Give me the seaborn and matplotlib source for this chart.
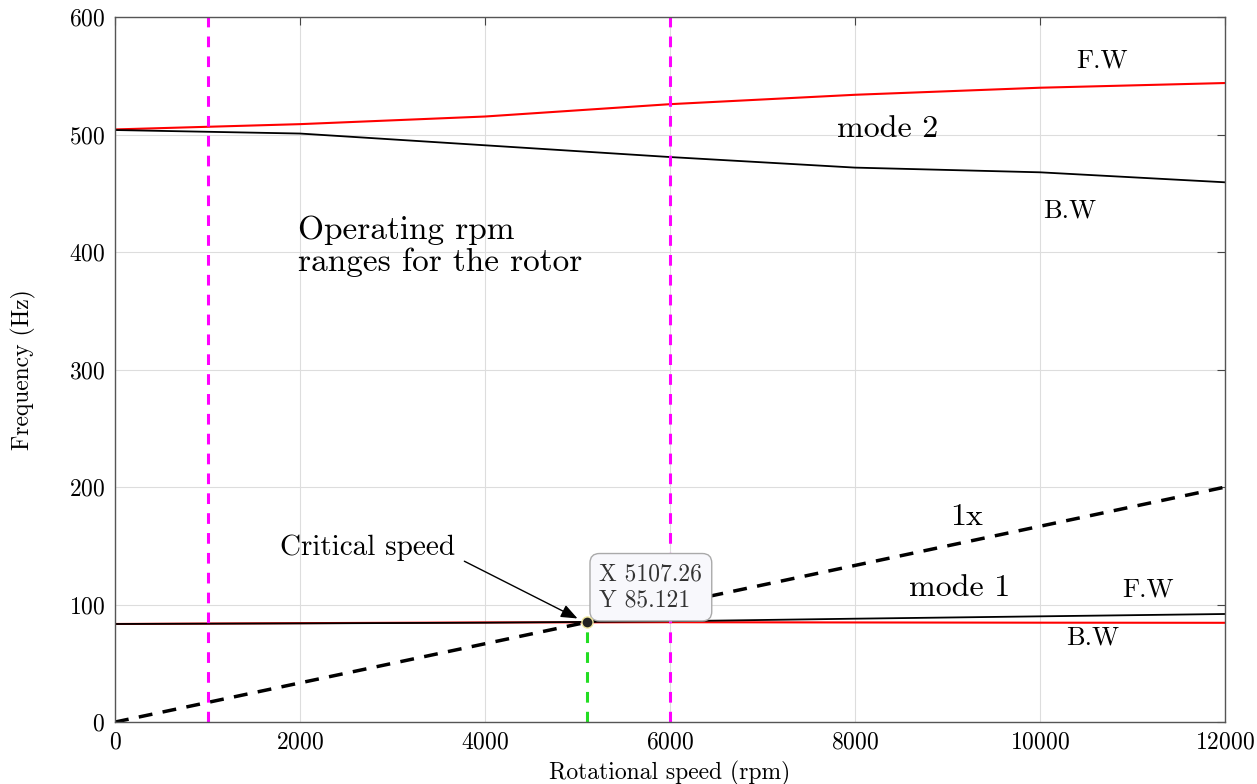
import numpy as np
import pandas as pd
import matplotlib.pyplot as plt
import seaborn as sns

# Campbell diagram data
rpm = [0, 2000, 4000, 6000, 8000, 10000, 12000]
mode2_fw = [504.5, 509, 515.5, 526, 534, 540, 544]
mode2_bw = [504, 501, 491, 481, 472, 468, 459.5]
mode1_fw = [83.5, 84.0, 84.6, 85.8, 88.0, 90.0, 92.0]
mode1_bw = [83.5, 84.2, 84.8, 85.0, 84.8, 84.6, 84.5]
rpm_1x = [0, 12000]
freq_1x = [0, 200]

operating_rpm = [1000, 6000]
crit_x = 5107.26
crit_y = 85.121

sns.set_style('whitegrid')
plt.rcParams['font.family'] = ['cmr10', 'DejaVu Serif']
plt.rcParams['axes.formatter.use_mathtext'] = True
plt.rcParams['text.color'] = 'black'
plt.rcParams['axes.labelcolor'] = 'black'

fig = plt.figure(figsize=(12.57, 7.84), dpi=100)
ax = fig.add_axes([0.0915, 0.079, 0.883, 0.899])

df_lines = pd.DataFrame({'rpm': rpm, 'm2fw': mode2_fw, 'm2bw': mode2_bw,
                         'm1fw': mode1_fw, 'm1bw': mode1_bw})

sns.lineplot(data=df_lines, x='rpm', y='m2fw', color='red', lw=1.5, ax=ax)
sns.lineplot(data=df_lines, x='rpm', y='m2bw', color='black', lw=1.3, ax=ax)
sns.lineplot(data=df_lines, x='rpm', y='m1bw', color='red', lw=1.5, ax=ax)
sns.lineplot(data=df_lines, x='rpm', y='m1fw', color='black', lw=1.3, ax=ax)
sns.lineplot(x=rpm_1x, y=freq_1x, color='black', lw=2.5, linestyle=(0, (4, 3)), ax=ax)

for r in operating_rpm:
    ax.axvline(r, color='magenta', lw=2.2, linestyle=(0, (3.5, 3)))
ax.plot([crit_x, crit_x], [0, crit_y], color='#22dd22', lw=2.2, linestyle=(0, (3.5, 3)))
ax.plot(crit_x, crit_y, 'o', color='#222222', markeredgecolor='#f0e8a0', markersize=8, zorder=5)

# data tip box
ax.text(crit_x + 130, crit_y + 9, f'X {crit_x}\nY {crit_y}', fontsize=17, color='#333333',
        va='bottom', ha='left', linespacing=1.25,
        bbox=dict(boxstyle='round,pad=0.4', fc='#f8f8fc', ec='#aaaaaa', lw=1))

ax.annotate('', xy=(crit_x - 80, crit_y + 2), xytext=(3750, 138),
            arrowprops=dict(arrowstyle='-|>,head_length=1.0,head_width=0.4',
                            color='black', lw=1))
ax.text(2735, 148, 'Critical speed', fontsize=21, ha='center', va='center')

ax.text(1980, 405, 'Operating rpm\nranges for the rotor', fontsize=24, ha='left',
        va='center', linespacing=1.1)
ax.text(10670, 563, 'F.W', fontsize=19, ha='center', va='center')
ax.text(8357, 505, 'mode 2', fontsize=23, ha='center', va='center')
ax.text(10324, 435, 'B.W', fontsize=19, ha='center', va='center')
ax.text(9211, 174, '1x', fontsize=23, ha='center', va='center')
ax.text(9135, 114, 'mode 1', fontsize=23, ha='center', va='center')
ax.text(11168, 113, 'F.W', fontsize=19, ha='center', va='center')
ax.text(10573, 72, 'B.W', fontsize=19, ha='center', va='center')

ax.set_xlim(0, 12000)
ax.set_ylim(0, 600)
ax.set_xticks(range(0, 12001, 2000))
ax.set_yticks(range(0, 601, 100))
ax.set_xlabel('Rotational speed (rpm)', fontsize=17, labelpad=5)
ax.set_ylabel('Frequency (Hz)', fontsize=17, labelpad=24)
ax.tick_params(axis='both', labelsize=17, direction='in', length=6, width=0.8,
               colors='#444444', labelcolor='black', top=True, right=True, pad=7)
ax.grid(True, color='#dddddd', lw=0.8)
for s in ax.spines.values():
    s.set_color('#555555')
    s.set_linewidth(1.0)

fig.savefig('out.png', dpi=100)
